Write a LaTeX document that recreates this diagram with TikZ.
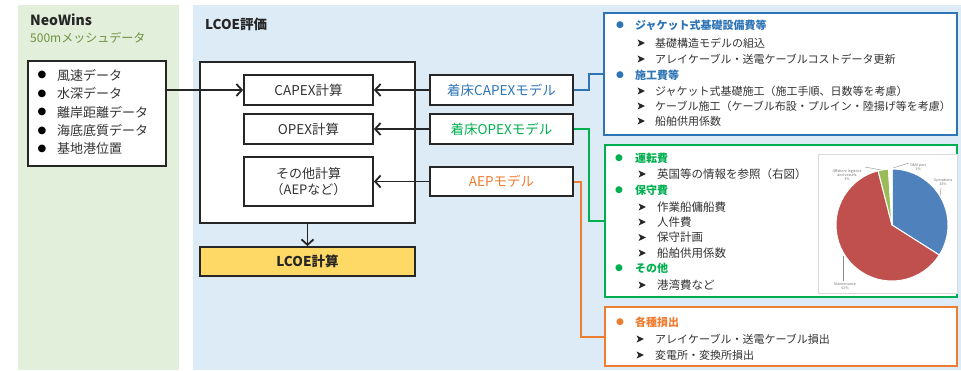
\documentclass[tikz,border=0pt]{standalone}
\usepackage{fontspec}
\setmainfont{Noto Sans CJK JP}
\newfontfamily\dejavu{DejaVu Sans}
\usetikzlibrary{arrows.meta}
\definecolor{panelgreen}{HTML}{E2EFDA}
\definecolor{panelblue}{HTML}{DDEBF7}
\definecolor{cblue}{HTML}{2E75B6}
\definecolor{cgreen}{HTML}{00B050}
\definecolor{corange}{HTML}{ED7D31}
\definecolor{cyellow}{HTML}{FFD966}
\definecolor{txt}{HTML}{333333}
\definecolor{olive}{HTML}{6E9140}
\definecolor{pieblue}{HTML}{4F81BD}
\definecolor{piered}{HTML}{C0504D}
\definecolor{piegreen}{HTML}{9BBB59}
\tikzset{
  box/.style={draw=black!85, line width=1.8pt, fill=white, inner sep=0pt, text=txt,
    font=\fontsize{13.5}{16}\selectfont, align=center},
  arr/.style={-{Straight Barb[length=5.5pt,width=12pt,line width=1.8pt]}, line width=1.8pt, draw=black!85},
  item/.style={anchor=west, inner sep=0pt, text=txt, font=\fontsize{11}{12}\selectfont},
  gitem/.style={item, font=\fontsize{11.5}{13}\selectfont},
  bigitem/.style={anchor=west, inner sep=0pt, text=txt, font=\fontsize{13}{15}\selectfont},
  head/.style={anchor=west, inner sep=0pt, font=\fontsize{11}{12}\selectfont\bfseries},
  dot/.style={inner sep=0pt, font=\dejavu\fontsize{9}{10}\selectfont},
  conn/.style={line width=2pt},
  piel/.style={inner sep=0pt, text=black!55, font=\fontsize{3.6}{4.3}\selectfont, align=center},
  lead/.style={draw=black!45, line width=0.4pt},
  trimark/.style={fill=black!85}
}
\newcommand{\arrowmark}[2]{\fill[trimark] (#1-3.5,#2-3.6) -- (#1+3.8,#2) -- (#1-3.5,#2+3.6) -- (#1-1.6,#2) -- cycle;}
\begin{document}
\begin{tikzpicture}[x=1pt,y=-1pt]
\useasboundingbox (0,0) rectangle (961,370);
\fill[white] (0,0) rectangle (961,370);
% panels
\fill[panelgreen] (18,5) rectangle (179,370);
\fill[panelblue] (193,5) rectangle (961,370);

% NeoWins panel
\node[anchor=west, inner sep=0pt, font=\fontsize{14}{16}\selectfont\bfseries, text=black!85] (neo) at (30,20) {NeoWins};
\node[anchor=west, inner sep=0pt, font=\fontsize{12}{14}\selectfont, text=olive] (mesh) at (30,38) {500mメッシュデータ};
\node[box, minimum width=138pt, minimum height=105pt] (data) at (97,113.5) {};
\foreach \yy/\tt [count=\i] in {75/風速データ, 93.5/水深データ, 112/離岸距離データ, 130.5/海底底質データ, 149/基地港位置}{
  \node[dot, text=black, font=\dejavu\fontsize{10}{11}\selectfont] (db\i) at (42,\yy) {●};
  \node[bigitem] (dt\i) at (57,\yy) {\tt};
}

% LCOE panel
\node[anchor=west, inner sep=0pt, font=\fontsize{13.5}{15}\selectfont\bfseries, text=black!85] (lcoet) at (205,24) {LCOE評価};
\node[box, minimum width=215pt, minimum height=161pt] (big) at (307.5,142.5) {};
\node[box, minimum width=129pt, minimum height=30pt] (capex) at (308.5,90) {CAPEX計算};
\node[box, minimum width=129pt, minimum height=30pt] (opex) at (308.5,129) {OPEX計算};
\node[box, minimum width=129pt, minimum height=49pt, font=\fontsize{13}{16}\selectfont] (other) at (308.5,181.5) {その他計算\\（AEPなど）};
\node[box, fill=cyellow, minimum width=215pt, minimum height=29pt, font=\fontsize{13.5}{15}\selectfont\bfseries, text=black!85] (lcoe) at (307.5,261.5) {LCOE計算};

\node[box, minimum width=143pt, minimum height=30pt, text=cblue] (capexm) at (501.5,90) {着床CAPEXモデル};
\node[box, minimum width=143pt, minimum height=30pt, text=cgreen] (opexm) at (501.5,129) {着床OPEXモデル};
\node[box, minimum width=143pt, minimum height=29pt, text=corange] (aepm) at (501.5,181.5) {AEPモデル};

% arrows
\draw[arr] (data.east |- capex.west) -- (capex.west);
\draw[arr] (capexm.west) -- (capex.east);
\draw[arr] (opexm.west) -- (opex.east);
\draw[arr] (aepm.west) -- (other.east);
\draw[arr] (big.south) -- (lcoe.north);

% right boxes
\node[draw=cblue, line width=2.2pt, fill=white, minimum width=353pt, minimum height=122pt, inner sep=0pt] (bluebox) at (780.5,74) {};
\node[draw=cgreen, line width=2.2pt, fill=white, minimum width=352pt, minimum height=152pt, inner sep=0pt] (greenbox) at (781,221) {};
\node[draw=corange, line width=2.2pt, fill=white, minimum width=352pt, minimum height=59pt, inner sep=0pt] (orangebox) at (781,336.5) {};

% connectors
\draw[conn, cblue] (capexm.east) -- ++(15,0) |- (bluebox.west);
\draw[conn, cgreen] (opexm.east) -- ++(15,0) |- (greenbox.west);
\draw[conn, corange] (aepm.east) -- ++(7,0) |- (orangebox.west);

% blue box content
\node[dot, text=cblue] (bb1) at (620,25) {●};
\node[head, text=cblue] (bh1) at (635,25) {ジャケット式基礎設備費等};
\arrowmark{641}{43}
\node[item] (bi1) at (655,43) {基礎構造モデルの組込};
\arrowmark{641}{59}
\node[item] (bi2) at (655,59) {アレイケーブル・送電ケーブルコストデータ更新};
\node[dot, text=cblue] (bb2) at (620,75) {●};
\node[head, text=cblue] (bh2) at (635,75) {施工費等};
\arrowmark{641}{91}
\node[item] (bi3) at (655,91) {ジャケット式基礎施工（施工手順、日数等を考慮）};
\arrowmark{641}{106}
\node[item] (bi4) at (655,106) {ケーブル施工（ケーブル布設・プルイン・陸揚げ等を考慮）};
\arrowmark{641}{121}
\node[item] (bi5) at (655,121) {船舶供用係数};

% green box content
\node[dot, text=cgreen] (gb1) at (619,158) {●};
\node[head, text=cgreen] (gh1) at (635,158) {運転費};
\arrowmark{642}{174}
\node[gitem] (gi1) at (657,174) {英国等の情報を参照（右図）};
\node[dot, text=cgreen] (gb2) at (619,190) {●};
\node[head, text=cgreen] (gh2) at (635,190) {保守費};
\arrowmark{642}{207}
\node[gitem] (gi2) at (657,207) {作業船傭船費};
\arrowmark{642}{222}
\node[gitem] (gi3) at (657,222) {人件費};
\arrowmark{642}{237.5}
\node[gitem] (gi4) at (657,237.5) {保守計画};
\arrowmark{642}{253}
\node[gitem] (gi5) at (657,253) {船舶供用係数};
\node[dot, text=cgreen] (gb3) at (619,268) {●};
\node[head, text=cgreen] (gh3) at (635,268) {その他};
\arrowmark{642}{285}
\node[gitem] (gi6) at (657,285) {港湾費など};

% orange box content
\node[dot, text=corange] (ob1) at (620,322) {●};
\node[head, text=corange] (oh1) at (635,322) {各種損出};
\arrowmark{640}{339}
\node[item] (oi1) at (655,339) {アレイケーブル・送電ケーブル損出};
\arrowmark{640}{355}
\node[item] (oi2) at (655,355) {変電所・変換所損出};

% pie chart
\node[draw=black!15, line width=0.8pt, fill=white, minimum width=139pt, minimum height=139pt, inner sep=0pt] (pieframe) at (887.5,223.5) {};
\begin{scope}[shift={(892,225)}, yscale=-1]
  \filldraw[fill=pieblue, draw=white, line width=1pt] (0,0) -- (90:56) arc[start angle=90, end angle=-32.4, radius=56] -- cycle;
  \filldraw[fill=piered, draw=white, line width=1pt] (0,0) -- (-32.4:56) arc[start angle=-32.4, end angle=-255.6, radius=56] -- cycle;
  \filldraw[fill=piegreen, draw=white, line width=1pt] (0,0) -- (104.4:56) arc[start angle=104.4, end angle=93.6, radius=56] -- cycle;
  \filldraw[fill=white, draw=white, line width=1pt] (0,0) -- (93.6:56) arc[start angle=93.6, end angle=90, radius=56] -- cycle;
\end{scope}
\node[piel] (l1) at (847,175) {Offshore logistics\\and vessels\\3\%};
\node[piel] (l2) at (918,167) {O\&M port\\1\%};
\node[piel] (l3) at (943,182) {Operations\\34\%};
\node[piel] (l4) at (845,286) {Maintenance\\62\%};
\coordinate (p1) at (881,170);
\coordinate (p2) at (893,168);
\coordinate (p3) at (940,196);
\coordinate (p4) at (843,256);
\draw[lead] (865,167) -- (p1);
\draw[lead] (909,163) -- (p2);
\draw[lead] (941,188) -- (p3);
\draw[lead] (843,281) -- (p4);
\end{tikzpicture}
\end{document}
